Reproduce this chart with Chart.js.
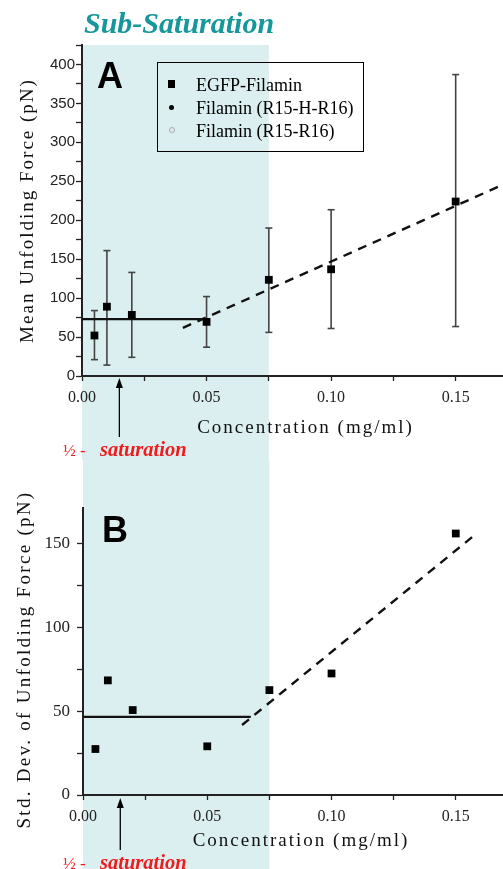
<!DOCTYPE html>
<html>
<head>
<meta charset="utf-8">
<script src="https://cdn.jsdelivr.net/npm/chart.js@4.4.1/dist/chart.umd.min.js"></script>
<style>
  html, body { margin:0; padding:0; background:#fff; }
  body { width:503px; height:869px; position:relative; overflow:hidden; }
  canvas { position:absolute; left:0; }
  #cA { top:0; }
  #cB { top:460px; }
  .lbl { position:absolute; white-space:nowrap; line-height:1; }
  #title { left:84px; top:6px; font:italic bold 30px "Liberation Serif", serif; color:#16979a; }
  .panel { font:bold 36px "Liberation Sans", Arial, sans-serif; color:#000; }
  #legend { position:absolute; left:157px; top:62px; width:205px; height:88px; border:1px solid #000; font:18px "Liberation Serif", serif; color:#000; }
  #legend .row { position:absolute; left:38px; white-space:nowrap; line-height:1; }
  #legend .mk { position:absolute; }
  .half { font:bold italic 20.5px "Liberation Serif", serif; color:#ee1c1c; }
  .half span { font-style:normal; font-weight:normal; font-size:17px; display:inline-block; width:37px; }
</style>
</head>
<body>
<canvas id="cA" width="503" height="460"></canvas>
<canvas id="cB" width="503" height="409"></canvas>

<div id="title" class="lbl">Sub-Saturation</div>
<div class="lbl panel" style="left:97px;top:55px;">A</div>
<div class="lbl panel" style="left:102px;top:509px;">B</div>
<div id="legend">
  <div class="mk" style="left:10px;top:17px;width:7px;height:8px;background:#000;"></div>
  <div class="row" style="top:13px;">EGFP-Filamin</div>
  <div class="mk" style="left:11px;top:42px;width:5px;height:5px;border-radius:50%;background:#000;"></div>
  <div class="row" style="top:36px;">Filamin (R15-H-R16)</div>
  <div class="mk" style="left:11px;top:64px;width:4px;height:4px;border-radius:50%;border:1px solid #aaa;"></div>
  <div class="row" style="top:59px;">Filamin (R15-R16)</div>
</div>
<div class="lbl half" style="left:63px;top:438px;"><span>½ - </span>saturation</div>
<div class="lbl half" style="left:63px;top:851px;"><span>½ - </span>saturation</div>

<script>
// ---- data ----
const concentration = [0.005, 0.01, 0.02, 0.05, 0.075, 0.10, 0.15];
const meanForce     = [52, 89, 78.5, 69.5, 123.5, 137, 224];
const meanForceLow  = [21, 14, 24, 37, 56, 61, 63.5];
const meanForceHigh = [84, 161, 133, 102, 190, 213.5, 387];
const stdDevForce   = [27.4, 68.3, 50.6, 29, 62.5, 72.4, 155.8];

const meanFlatX  = [0, 0.05];       const meanFlatY  = [73, 73];
const meanTrendX = [0.0405, 0.169]; const meanTrendY = [61.8, 245.7];
const sdFlatX    = [0, 0.0675];     const sdFlatY    = [46.6, 46.6];
const sdTrendX   = [0.064, 0.1575]; const sdTrendY   = [41.7, 154.8];

const halfSaturation = 0.015;
const subSaturationRange = [0, 0.075];
const xTickLabels = ['0.00', '0.05', '0.10', '0.15'];
const yTickLabelsA = ['0', '50', '100', '150', '200', '250', '300', '350', '400'];
const yTickLabelsB = ['0', '50', '100', '150'];

// ---- helpers ----
const pts = (xs, ys) => xs.map((x, i) => ({ x, y: ys[i] }));
const near = (v, step) => Math.abs(v / step - Math.round(v / step)) < 1e-6;
const xLabel = v => { const s = v.toFixed(2); return near(v, 0.05) && xTickLabels.includes(s) ? s : ''; };
const yLabelFrom = list => v => (near(v, 50) && list.includes(String(Math.round(v)))) ? String(Math.round(v)) : '';

const shadePlugin = {
  id: 'shade',
  beforeDraw(chart, args, opts) {
    const { ctx, scales: { x } } = chart;
    const x0 = x.getPixelForValue(subSaturationRange[0]);
    const x1 = x.getPixelForValue(subSaturationRange[1]);
    ctx.save();
    ctx.fillStyle = '#dbeef0';
    ctx.fillRect(x0, opts.top === 'area' ? chart.chartArea.top : 0, x1 - x0, chart.height);
    ctx.restore();
  }
};
const arrowPlugin = {
  id: 'arrow',
  afterDraw(chart, args, opts) {
    const { ctx, scales: { x } } = chart;
    const px = x.getPixelForValue(halfSaturation);
    const tip = chart.chartArea.bottom + opts.gap;
    const tail = tip + opts.len;
    ctx.save();
    ctx.strokeStyle = '#000'; ctx.fillStyle = '#000'; ctx.lineWidth = 1.3;
    ctx.beginPath(); ctx.moveTo(px, tip + 6); ctx.lineTo(px, tail); ctx.stroke();
    ctx.beginPath(); ctx.moveTo(px, tip); ctx.lineTo(px - 3.5, tip + 10); ctx.lineTo(px + 3.5, tip + 10); ctx.closePath(); ctx.fill();
    ctx.restore();
  }
};
// letter-spacing / nudge for the axis titles (the scanned figure is drawn wide)
function titleStyle(cfg) {
  return {
    id: 'titleStyle',
    beforeDraw(chart) {
      Object.keys(cfg).forEach(id => {
        const s = chart.scales[id];
        if (!s || s._styled) return;
        const orig = s.drawTitle.bind(s);
        const o = cfg[id];
        s.drawTitle = function () {
          const ctx = this.ctx;
          ctx.save();
          ctx.letterSpacing = o.spacing + 'px';
          ctx.translate(o.dx || 0, o.dy || 0);
          orig();
          ctx.restore();
        };
        s._styled = true;
      });
    }
  };
}

const serif = '"Liberation Serif", "Times New Roman", serif';
const sans = '"Liberation Sans", Arial, sans-serif';

function xScale(height, pad, titlePad) {
  return {
    type: 'linear', min: 0, max: 0.169,
    afterFit: s => { s.height = height; s.paddingLeft = 0; s.paddingRight = 0; },
    ticks: { stepSize: 0.025, includeBounds: false, autoSkip: false, maxRotation: 0, padding: pad, color: '#222',
             font: { family: serif, size: 16 }, callback: xLabel },
    grid: { drawOnChartArea: false, drawTicks: true, tickLength: 5, tickColor: '#222', tickWidth: 1.3 },
    border: { display: true, color: '#222', width: 2 },
    title: { display: true, text: 'Concentration (mg/ml)', color: '#111',
             font: { family: serif, size: 19 }, padding: { top: 0, bottom: titlePad } }
  };
}

// ---- Panel A ----
const errorBarsA = concentration.map((c, i) => ({
  type: 'line', data: pts([c, c], [meanForceLow[i], meanForceHigh[i]]),
  borderColor: '#444', borderWidth: 1.6, pointStyle: 'line', pointRadius: 3.5,
  pointBorderColor: '#444', pointBorderWidth: 1.6, order: 2
}));

new Chart(document.getElementById('cA'), {
  type: 'scatter',
  data: {
    datasets: [
      { label: 'EGFP-Filamin', data: pts(concentration, meanForce), pointStyle: 'rect',
        pointRadius: 5.5, backgroundColor: '#000', borderColor: '#000', borderWidth: 0, order: 0 },
      { type: 'line', label: 'flat', data: pts(meanFlatX, meanFlatY), borderColor: '#111',
        borderWidth: 2.2, pointRadius: 0, order: 1 },
      { type: 'line', label: 'trend', data: pts(meanTrendX, meanTrendY), borderColor: '#111',
        borderWidth: 2.4, borderDash: [9, 7], pointRadius: 0, order: 1 },
      ...errorBarsA
    ]
  },
  options: {
    responsive: false, animation: false,
    layout: { autoPadding: false, padding: { top: 45, left: 0, right: 0, bottom: 0 } },
    plugins: { legend: { display: false }, tooltip: { enabled: false },
               shade: { top: 'area' }, arrow: { gap: 2, len: 59 } },
    scales: {
      x: xScale(84, 7, 21),
      y: {
        type: 'linear', min: 0, max: 425,
        afterFit: s => { s.width = 82; },
        ticks: { stepSize: 25, includeBounds: false, autoSkip: false, padding: 1, color: '#222',
                 font: { family: sans, size: 15 }, callback: yLabelFrom(yTickLabelsA) },
        grid: { drawOnChartArea: false, drawTicks: true, tickLength: 6, tickColor: '#222', tickWidth: 1.3 },
        border: { display: true, color: '#222', width: 2 },
        title: { display: true, text: 'Mean Unfolding Force (pN)', color: '#111',
                 font: { family: serif, size: 19 }, padding: { top: 17, bottom: 0 } }
      }
    }
  },
  plugins: [shadePlugin, arrowPlugin, titleStyle({ x: { spacing: 2, dx: 13 }, y: { spacing: 2, dy: 0 } })]
});

// ---- Panel B ----
new Chart(document.getElementById('cB'), {
  type: 'scatter',
  data: {
    datasets: [
      { label: 'EGFP-Filamin', data: pts(concentration, stdDevForce), pointStyle: 'rect',
        pointRadius: 5.5, backgroundColor: '#000', borderColor: '#000', borderWidth: 0, order: 0 },
      { type: 'line', label: 'flat', data: pts(sdFlatX, sdFlatY), borderColor: '#111',
        borderWidth: 2.2, pointRadius: 0, order: 1 },
      { type: 'line', label: 'trend', data: pts(sdTrendX, sdTrendY), borderColor: '#111',
        borderWidth: 2.4, borderDash: [9, 7], pointRadius: 0, order: 1 }
    ]
  },
  options: {
    responsive: false, animation: false,
    layout: { autoPadding: false, padding: { top: 48, left: 0, right: 0, bottom: 0 } },
    plugins: { legend: { display: false }, tooltip: { enabled: false },
               shade: { top: 'canvas' }, arrow: { gap: 3, len: 52 } },
    scales: {
      x: xScale(74, 7, 17),
      y: {
        type: 'linear', min: 0, max: 171,
        afterFit: s => { s.width = 83; },
        ticks: { stepSize: 25, includeBounds: false, autoSkip: false, padding: 7, color: '#222',
                 font: { family: serif, size: 17 }, callback: yLabelFrom(yTickLabelsB) },
        grid: { drawOnChartArea: false, drawTicks: true, tickLength: 6, tickColor: '#222', tickWidth: 1.3 },
        border: { display: true, color: '#222', width: 2 },
        title: { display: true, text: 'Std. Dev. of Unfolding Force (pN)', color: '#111',
                 font: { family: serif, size: 19 }, padding: { top: 14, bottom: 0 } }
      }
    }
  },
  plugins: [shadePlugin, arrowPlugin, titleStyle({ x: { spacing: 2, dx: 8 }, y: { spacing: 2.3, dy: 8 } })]
});
</script>
</body>
</html>
